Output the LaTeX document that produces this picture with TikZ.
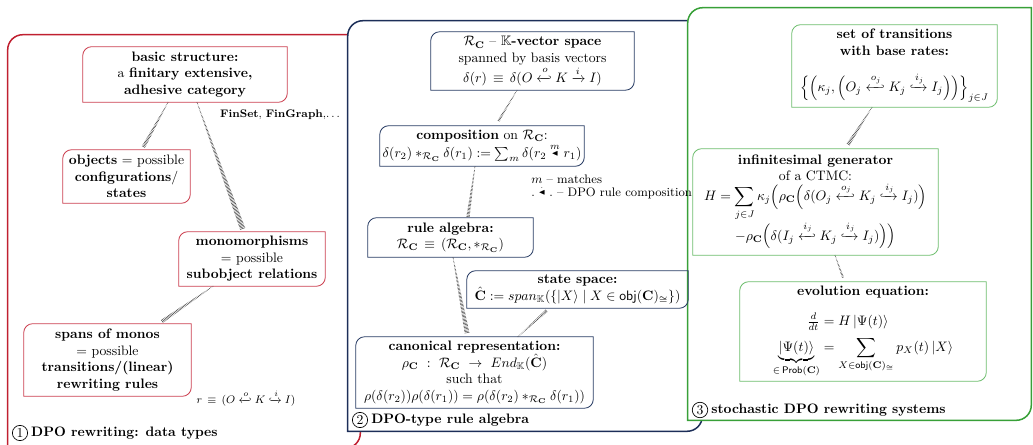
\documentclass[tikz,border=0pt]{standalone}
\usepackage{amsmath,amssymb,mathtools}
\usetikzlibrary{calc,decorations.markings}
\definecolor{pred}{RGB}{192,32,48}
\definecolor{nred}{RGB}{204,64,80}
\definecolor{pblue}{RGB}{28,46,88}
\definecolor{nblue}{RGB}{40,60,100}
\definecolor{pgreen}{RGB}{56,160,56}
\definecolor{ngreen}{RGB}{110,190,110}
\newcommand\tlbrbox[3]{%
  \draw[#1] (#2.north east) -- ([xshift=#3]#2.north west)
    arc[start angle=90,end angle=180,radius=#3] -- (#2.south west)
    -- ([xshift=-#3]#2.south east)
    arc[start angle=270,end angle=360,radius=#3] -- cycle;}
\newcommand\smtri{\vcenter{\hbox{$\scriptscriptstyle\blacktriangleleft$}}}
\tikzset{
  cbox/.style={align=center, inner sep=1.5pt},
  panelnode/.style={inner sep=0pt},
  plabel/.style={font=\bfseries, anchor=west, inner sep=0pt},
  pnum/.style={circle, draw, inner sep=1pt, line width=0.5pt},
  redbox/.style={draw=nred, line width=0.6pt},
  bluebox/.style={draw=nblue, line width=0.6pt},
  greenbox/.style={draw=ngreen, line width=0.6pt},
  taper/.style={postaction={decorate}, decoration={markings,
    mark=between positions 0 and 1 step 1pt with {%
      \pgfmathsetmacro{\tw}{0.2+#1*\pgfkeysvalueof{/pgf/decoration/mark info/distance from start}/\pgfdecoratedpathlength}%
      \draw[line width=0.3pt, black!85] (0pt,-\tw pt) -- (0pt,\tw pt);}}},
}
\begin{document}
\begin{tikzpicture}[x=0.73pt, y=-0.73pt]
\clip (0,0) rectangle (1033,445);
% panels
\node[panelnode, minimum width=257pt, minimum height=301.5pt] (P1) at (184,241.5) {};
\node[panelnode, minimum width=258.4pt, minimum height=299.3pt] (P2) at (525,226) {};
\node[panelnode, minimum width=250.4pt, minimum height=300.8pt] (P3) at (859.5,214) {};
\tlbrbox{draw=pred, line width=1.1pt, fill=white}{P1}{11pt}
\tlbrbox{draw=pblue, line width=1.1pt, fill=white}{P2}{11pt}
\tlbrbox{draw=pgreen, line width=1.1pt, fill=white}{P3}{11pt}

% ---------- panel 1
\node[cbox, minimum width=148.9pt, minimum height=40.2pt] (basic) at (185,74.5)
  {\textbf{basic structure:}\\ a \textbf{finitary extensive,}\\ \textbf{adhesive category}};
\tlbrbox{redbox}{basic}{6.5pt}
\node[font=\footnotesize] (fin) at (280,115) {\textbf{FinSet}, \textbf{FinGraph},$\ldots$};
\node[cbox, minimum width=92.7pt, minimum height=38.7pt] (objects) at (126.5,176.5)
  {\textbf{objects} = possible\\ \textbf{configurations}/\\ \textbf{states}};
\tlbrbox{redbox}{objects}{6.5pt}
\node[cbox, minimum width=106.6pt, minimum height=39.4pt] (mono) at (252,259)
  {\textbf{monomorphisms}\\ = possible\\ \textbf{subobject relations}};
\tlbrbox{redbox}{mono}{6.5pt}
\node[cbox, minimum width=121.9pt, minimum height=52.6pt] (spans) at (107.5,360)
  {\textbf{spans of monos}\\ = possible\\ \textbf{transitions/(linear)}\\ \textbf{rewriting rules}};
\tlbrbox{redbox}{spans}{6.5pt}
\node[font=\footnotesize] (rdef) at (246,398) {$r\,\equiv\,(O \xhookleftarrow{o} K \xhookrightarrow{i} I)$};
\path[taper=1.1] ($(basic.south)+(-17,0)$) -- ($(objects.north)+(16.5,-2)$);
\path[taper=1.8] ($(basic.south)+(12,0)$) -- ($(mono.north)+(-9,-2)$);
\path[taper=1.1] ($(mono.south)+(-39,0)$) -- ($(spans.north)+(54,-2)$);
\node[pnum] (n1) at (20,433) {1};
\node[plabel] (l1) at ($(n1.east)+(3,0)$) {DPO rewriting: data types};

% ---------- panel 2
\node[cbox, minimum width=148.2pt, minimum height=42.3pt] (vec) at (532.5,61)
  {$\mathcal{R}_{\mathbf{C}}$ -- $\mathbb{K}$\textbf{-vector space}\\ spanned by basis vectors\\
   $\delta(r)\,\equiv\,\delta(O \xhookleftarrow{o} K \xrightarrow{i} I)$};
\tlbrbox{bluebox}{vec}{6.5pt}
\node[cbox, minimum width=148.9pt, minimum height=29.2pt] (comp) at (482,146)
  {\textbf{composition} on $\mathcal{R}_{\mathbf{C}}$:\\
   $\delta(r_2)*_{\mathcal{R}_{\mathbf{C}}}\delta(r_1):=\sum_m \delta(r_2 \stackrel{m}{\smtri} r_1)$};
\tlbrbox{bluebox}{comp}{6.5pt}
\node[font=\small, align=left, anchor=west, inner sep=0pt] (legend) at (531,186.5)
  {$m$ -- matches\\[-1.5pt] $.\stackrel{.}{\smtri}.$ -- DPO rule composition};
\node[cbox, minimum width=120.5pt, minimum height=28.5pt] (ralg) at (450.5,237.5)
  {\textbf{rule algebra:}\\ $\mathcal{R}_{\mathbf{C}}\,\equiv\,(\mathcal{R}_{\mathbf{C}},*_{\mathcal{R}_{\mathbf{C}}})$};
\tlbrbox{bluebox}{ralg}{6.5pt}
\node[cbox, minimum width=161.3pt, minimum height=27pt] (state) at (577.5,289.5)
  {\textbf{state space:}\\ $\hat{\mathbf{C}}:=span_{\mathbb{K}}(\{|X\rangle\mid X\in\mathsf{obj}(\mathbf{C})_{\cong}\})$};
\tlbrbox{bluebox}{state}{6.5pt}
\node[cbox, minimum width=173pt, minimum height=51.8pt] (canon) at (474.5,372.5)
  {\textbf{canonical representation:}\\
   $\rho_{\mathbf{C}}\ :\ \mathcal{R}_{\mathbf{C}}\ \rightarrow\ End_{\mathbb{K}}(\hat{\mathbf{C}})$\\
   such that\\
   $\rho(\delta(r_2))\rho(\delta(r_1))=\rho(\delta(r_2)*_{\mathcal{R}_{\mathbf{C}}}\delta(r_1))$};
\tlbrbox{bluebox}{canon}{6.5pt}
\path[taper=0.6] ($(vec.south)+(-15.5,0)$) -- ($(comp.north)+(16,-4)$);
\path[taper=1.0] ($(comp.south)+(-7,0)$) -- ($(ralg.north)+(17.5,-1)$);
\path[taper=1.5] ($(ralg.south)+(2.5,0)$) -- ($(canon.north)+(-7.5,-4)$);
\path[taper=0.9] ($(canon.north)+(43.5,0)$) -- ($(state.south)+(-30.5,2)$);
\node[pnum] (n2) at (360,420) {2};
\node[plabel] (l2) at ($(n2.east)+(3,0)$) {DPO-type rule algebra};

% ---------- panel 3
\node[cbox, minimum width=149.7pt, minimum height=59.9pt] (trans) at (894.5,66)
  {\textbf{set of transitions}\\ \textbf{with base rates:}\\[12pt]
   $\Bigl\{\Bigl(\kappa_j,\Bigl(O_j \xhookleftarrow{o_j} K_j \xhookrightarrow{i_j} I_j\Bigr)\Bigr)\Bigr\}_{j\in J}$};
\tlbrbox{greenbox}{trans}{6.5pt}
\node[cbox, minimum width=178.9pt, minimum height=77.4pt] (gen) at (815.5,202)
  {\textbf{infinitesimal generator}\\ of a CTMC:\\
   $H=\displaystyle\sum_{j\in J}\kappa_j\Bigl(\rho_{\mathbf{C}}\Bigl(\delta(O_j \xhookleftarrow{o_j} K_j \xhookrightarrow{i_j} I_j)\Bigr)$\\
   $-\rho_{\mathbf{C}}\Bigl(\delta(I_j \xhookleftarrow{i_j} K_j \xhookrightarrow{i_j} I_j)\Bigr)\Bigr)$};
\tlbrbox{greenbox}{gen}{6.5pt}
\node[cbox, minimum width=179.6pt, minimum height=72.3pt] (evol) at (863,331.5)
  {\textbf{evolution equation:}\\[10pt]
   $\begin{array}{r@{\;=\;}l}
     \tfrac{d}{dt} & H\,|\Psi(t)\rangle\\[5pt]
     \underbrace{|\Psi(t)\rangle}_{\in\,\mathsf{Prob}(\mathbf{C})} &
     \displaystyle\sum_{X\in\mathsf{obj}(\mathbf{C})_{\cong}} p_X(t)\,|X\rangle
   \end{array}$};
\tlbrbox{greenbox}{evol}{6.5pt}
\path[taper=1.1] ($(trans.south)+(-22.5,0)$) -- ($(gen.north)+(32.5,-4)$);
\path[taper=0.5] ($(gen.south)+(19.5,0)$) -- ($(evol.north)+(-20,-4)$);
\node[pnum] (n3) at (700,410) {3};
\node[plabel] (l3) at ($(n3.east)+(3,0)$) {stochastic DPO rewriting systems};
\end{tikzpicture}
\end{document}
